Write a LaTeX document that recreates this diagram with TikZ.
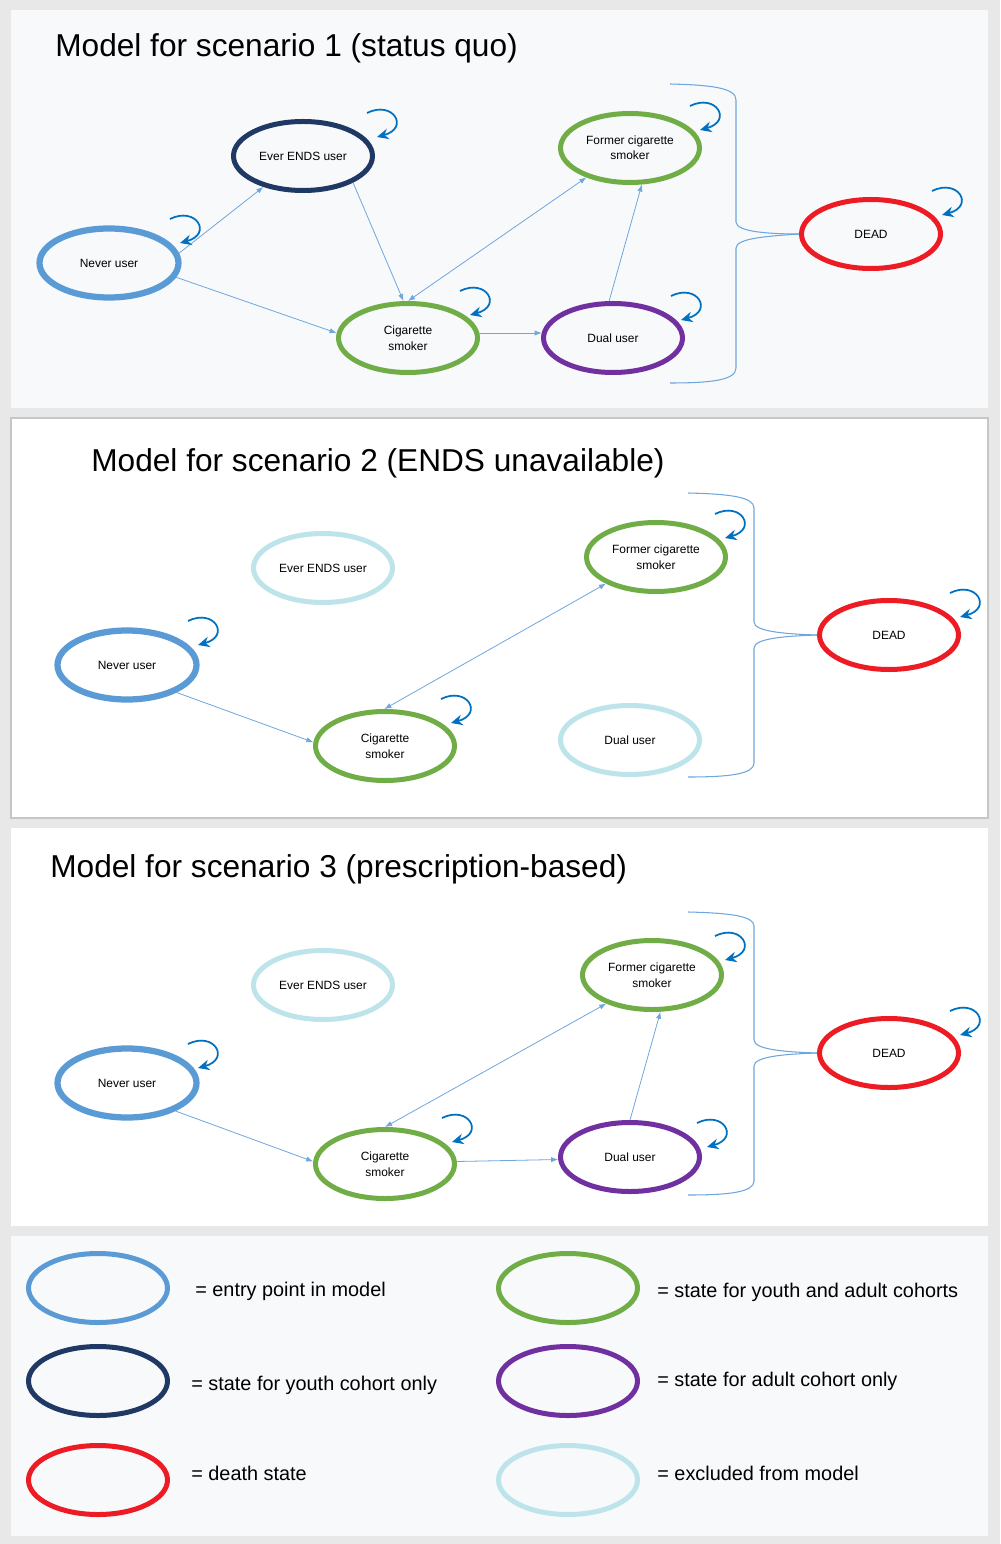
\documentclass[tikz,border=0pt]{standalone}
\usepackage{fontspec}
\setmainfont{Liberation Sans}
\usepackage{tikz}
\usetikzlibrary{shapes.geometric, arrows.meta, calc}
\definecolor{outerbg}{HTML}{E7E8E7}
\definecolor{panelbg}{HTML}{F8F9FB}
\definecolor{panelline}{HTML}{C6C6C6}
\definecolor{entryblue}{HTML}{5B9BD5}
\definecolor{youthnavy}{HTML}{1F3864}
\definecolor{bothgreen}{HTML}{70AD47}
\definecolor{adultpurple}{HTML}{7030A0}
\definecolor{deathred}{HTML}{ED1C24}
\definecolor{exclcyan}{HTML}{BEE4EB}
\definecolor{connblue}{HTML}{6FA6DC}
\definecolor{loopblue}{HTML}{0070C0}
\newcommand{\ttlfont}{\fontsize{18}{22}\selectfont}
\newcommand{\statefont}{\fontsize{6.8}{8.8}\selectfont}
\newcommand{\legfont}{\fontsize{11.3}{14}\selectfont}
% self-transition arrow: node, offset of the tip from the node centre
\newcommand{\selfloop}[2]{\draw[selfarr] ($(#1)+(#2)+(-10,-24)$) .. controls +(26,-13) and +(33,-9) .. ($(#1)+(#2)$);}

\begin{document}
\begin{tikzpicture}[
  x=0.2mm, y=-0.2mm,
  state/.style={ellipse, minimum width=27.8mm, minimum height=13.8mm, line width=1mm, align=center, font=\statefont, inner sep=0pt},
  entry/.style={state, draw=entryblue, line width=1.25mm},
  youth/.style={state, draw=youthnavy},
  both/.style={state, draw=bothgreen},
  adult/.style={state, draw=adultpurple},
  death/.style={state, draw=deathred},
  excl/.style={state, draw=exclcyan},
  conn/.style={-{Latex[length=4pt,width=3pt]}, line width=0.45pt, draw=connblue},
  conn2/.style={{Latex[length=4pt,width=3pt]}-{Latex[length=4pt,width=3pt]}, line width=0.45pt, draw=connblue},
  selfarr/.style={-{Stealth[length=6.5pt,width=6pt]}, line width=1pt, draw=loopblue},
  bracket/.style={line width=0.6pt, draw=connblue},
  title/.style={anchor=west, font=\ttlfont, inner sep=0pt},
  legtext/.style={anchor=west, font=\legfont, inner sep=0pt},
]
\useasboundingbox (0,0) rectangle (1000,1544);

% --- panels ---
\fill[outerbg] (0,0) rectangle (1000,1544);
\fill[panelbg] (11,10) rectangle (988,408);
\filldraw[fill=white, draw=panelline, line width=0.6pt] (11,418) rectangle (988,818);
\fill[white] (11,828) rectangle (988,1226);
\fill[panelbg] (11,1236) rectangle (988,1536);

% --- scenario 1 (status quo) ---
\node[title] (t1) at (55,48) {Model for scenario 1 (status quo)};
\node[entry] (s1never) at (109,263) {Never user};
\node[youth] (s1ends) at (303,156) {Ever ENDS user};
\node[both] (s1cig) at (408,338) {Cigarette\\ smoker};
\node[both] (s1former) at (630,148) {Former cigarette\\ smoker};
\node[adult] (s1dual) at (613,338) {Dual user};
\node[death] (s1dead) at (871,234) {DEAD};

\draw[conn] (s1never.8) -- (s1ends.218);
\draw[conn] (s1never.348) -- (s1cig.176);
\draw[conn] (s1ends.332) -- (s1cig.97);
\draw[conn2] (s1cig.90) -- (s1former.214);
\draw[conn] (s1cig.4) -- (s1dual.176);
\draw[conn] (s1dual.96) -- (s1former.288);

\coordinate (s1brtop) at (670,84);
\coordinate (s1brbot) at (670,383);
\draw[bracket] (s1brtop) .. controls (712,85) and (736,88) .. (736,100) -- (736,222) .. controls (736,232) and (770,234) .. (s1dead.west);
\draw[bracket] (s1dead.west) .. controls (770,236) and (736,238) .. (736,248) -- (736,368) .. controls (736,380) and (712,383) .. (s1brbot);

\selfloop{s1never}{71,-20}
\selfloop{s1ends}{74,-19}
\selfloop{s1cig}{62,-23}
\selfloop{s1former}{70,-18}
\selfloop{s1dual}{68,-18}
\selfloop{s1dead}{71,-19}

% --- scenario 2 (ENDS unavailable) ---
\node[title] (t2) at (91,463) {Model for scenario 2 (ENDS unavailable)};
\node[entry] (s2never) at (127,665) {Never user};
\node[excl] (s2ends) at (323,568) {Ever ENDS user};
\node[both] (s2cig) at (385,746) {Cigarette\\ smoker};
\node[both] (s2former) at (656,557) {Former cigarette\\ smoker};
\node[excl] (s2dual) at (630,740) {Dual user};
\node[death] (s2dead) at (889,635) {DEAD};

\draw[conn] (s2never.331) -- (s2cig.177);
\draw[conn2] (s2cig.91) -- (s2former.208);

\coordinate (s2brtop) at (688,493);
\coordinate (s2brbot) at (688,777);
\draw[bracket] (s2brtop) .. controls (730,494) and (754,497) .. (754,508) -- (754,622) .. controls (754,632) and (788,634) .. (s2dead.west);
\draw[bracket] (s2dead.west) .. controls (788,636) and (754,638) .. (754,648) -- (754,763) .. controls (754,774) and (730,777) .. (s2brbot);

\selfloop{s2never}{71,-20}
\selfloop{s2cig}{66,-23}
\selfloop{s2former}{69,-19}
\selfloop{s2dead}{71,-18}

% --- scenario 3 (prescription-based) ---
\node[title] (t3) at (50,869) {Model for scenario 3 (prescription-based)};
\node[entry] (s3never) at (127,1083) {Never user};
\node[excl] (s3ends) at (323,985) {Ever ENDS user};
\node[both] (s3cig) at (385,1164) {Cigarette\\ smoker};
\node[both] (s3former) at (652,975) {Former cigarette\\ smoker};
\node[adult] (s3dual) at (630,1157) {Dual user};
\node[death] (s3dead) at (889,1053) {DEAD};

\draw[conn] (s3never.330) -- (s3cig.178);
\draw[conn2] (s3cig.90) -- (s3former.212);
\draw[conn] (s3cig.2) -- (s3dual.182);
\draw[conn] (s3dual.90) -- (s3former.283);

\coordinate (s3brtop) at (688,912);
\coordinate (s3brbot) at (688,1195);
\draw[bracket] (s3brtop) .. controls (730,913) and (754,916) .. (754,926) -- (754,1040) .. controls (754,1050) and (788,1052) .. (s3dead.west);
\draw[bracket] (s3dead.west) .. controls (788,1054) and (754,1056) .. (754,1066) -- (754,1181) .. controls (754,1192) and (730,1195) .. (s3brbot);

\selfloop{s3never}{71,-15}
\selfloop{s3cig}{67,-22}
\selfloop{s3former}{73,-15}
\selfloop{s3dual}{77,-10}
\selfloop{s3dead}{71,-18}

% --- legend ---
\node[state, draw=entryblue] (legentry) at (98,1288) {};
\node[state, draw=bothgreen] (legboth) at (568,1288) {};
\node[state, draw=youthnavy] (legyouth) at (98,1381) {};
\node[state, draw=adultpurple] (legadult) at (568,1381) {};
\node[state, draw=deathred] (legdeath) at (98,1480) {};
\node[state, draw=exclcyan] (legexcl) at (568,1480) {};
\node[legtext] (lt1) at (195,1291) {= entry point in model};
\node[legtext] (lt2) at (657,1292) {= state for youth and adult cohorts};
\node[legtext] (lt3) at (191,1385) {= state for youth cohort only};
\node[legtext] (lt4) at (657,1381) {= state for adult cohort only};
\node[legtext] (lt5) at (191,1473) {= death state};
\node[legtext] (lt6) at (657,1473) {= excluded from model};
\end{tikzpicture}
\end{document}
